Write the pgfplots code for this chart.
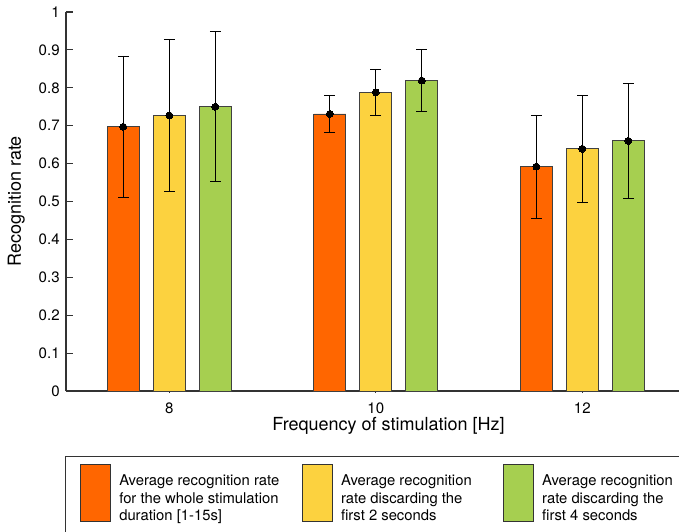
\documentclass[border=0pt]{standalone}
\usepackage{pgfplots}
\pgfplotsset{compat=1.18}
\usepackage{fontspec}
\setmainfont{TeX Gyre Heros}
\definecolor{cOrange}{HTML}{FF6600}
\definecolor{cYellow}{HTML}{FCD23F}
\definecolor{cGreen}{HTML}{A6CF50}
\definecolor{axgray}{HTML}{333333}
\begin{document}
\begin{tikzpicture}[x=1pt,y=1pt]
\begin{axis}[
  at={(0,0)}, anchor=south west,
  scale only axis,
  width=459.75pt, height=284.25pt,
  xmin=-0.5, xmax=2.468,
  ymin=0, ymax=1,
  axis lines=left,
  axis line style={axgray, line width=0.8pt, -},
  xtick={0,1,2}, xticklabels={8,10,12},
  ytick={0,0.1,...,1.01},
  yticklabels={0,0.1,0.2,0.3,0.4,0.5,0.6,0.7,0.8,0.9,1},
  major tick length=5pt,
  y tick style={axgray, line width=0.8pt},
  x tick style={axgray, line width=0.6pt, /pgfplots/major tick length=1.5pt},
  xtick align=outside, ytick align=inside,
  /pgf/number format/assume math mode=true,
  tick label style={font=\fontsize{11.3}{13}\selectfont},
  label style={font=\fontsize{13.5}{15}\selectfont},
  yticklabel style={xshift=-1.2pt},
  xlabel={Frequency of stimulation [Hz]},
  ylabel={Recognition rate},
  xlabel style={yshift=4pt, xshift=12pt},
  ylabel style={yshift=3.5pt},
  ybar, bar width=24pt,
  every axis plot/.append style={bar shift=0pt, draw=black!75, line width=0.6pt,
    mark=*, mark size=2.6pt, mark options={fill=black, draw=black, line width=0pt},
    error bars/y dir=both, error bars/y explicit,
    error bars/error bar style={black, line width=0.6pt},
    error bars/error mark options={rotate=90, black, mark size=4pt, line width=0.6pt}},
  legend columns=3,
  legend style={at={(axis description cs:-0.0016,-0.1715)}, anchor=north west,
    draw=axgray, line width=0.7pt, inner xsep=10.8pt, inner ysep=6pt,
    /tikz/every odd column/.style={column sep=6.45pt},
    /tikz/every even column/.style={column sep=0pt},
    nodes={inner sep=0pt},
    cells={anchor=base west}, font=\fontsize{11.1}{13.1}\selectfont},
  legend image code/.code={\draw[#1, draw=black!80, line width=0.6pt] (0pt,-27pt) rectangle (22.5pt,15.75pt);\path (0pt,-36pt);},
]
\addplot[fill=cOrange] table[y error=e] {
x y e
-0.2228 0.697 0.187
0.7772 0.731 0.050
1.7772 0.592 0.136
};
\addlegendentry{\parbox[t]{136.8pt}{Average recognition rate\\for the whole stimulation\\duration [1-15s]}}
\addplot[fill=cYellow] table[y error=e] {
x y e
0 0.727 0.200
1 0.788 0.060
2 0.639 0.141
};
\addlegendentry{\parbox[t]{121.3pt}{Average recognition\\rate discarding the\\first 2 seconds}}
\addplot[fill=cGreen] table[y error=e] {
x y e
0.2228 0.750 0.198
1.2228 0.819 0.082
2.2228 0.660 0.151
};
\addlegendentry{\parbox[t]{170pt}{Average recognition\\rate discarding the\\first 4 seconds}}
\end{axis}
\pgfresetboundingbox
\path[use as bounding box] (-49.5pt,-105.75pt) rectangle (459.75pt,293.25pt);
\end{tikzpicture}
\end{document}
